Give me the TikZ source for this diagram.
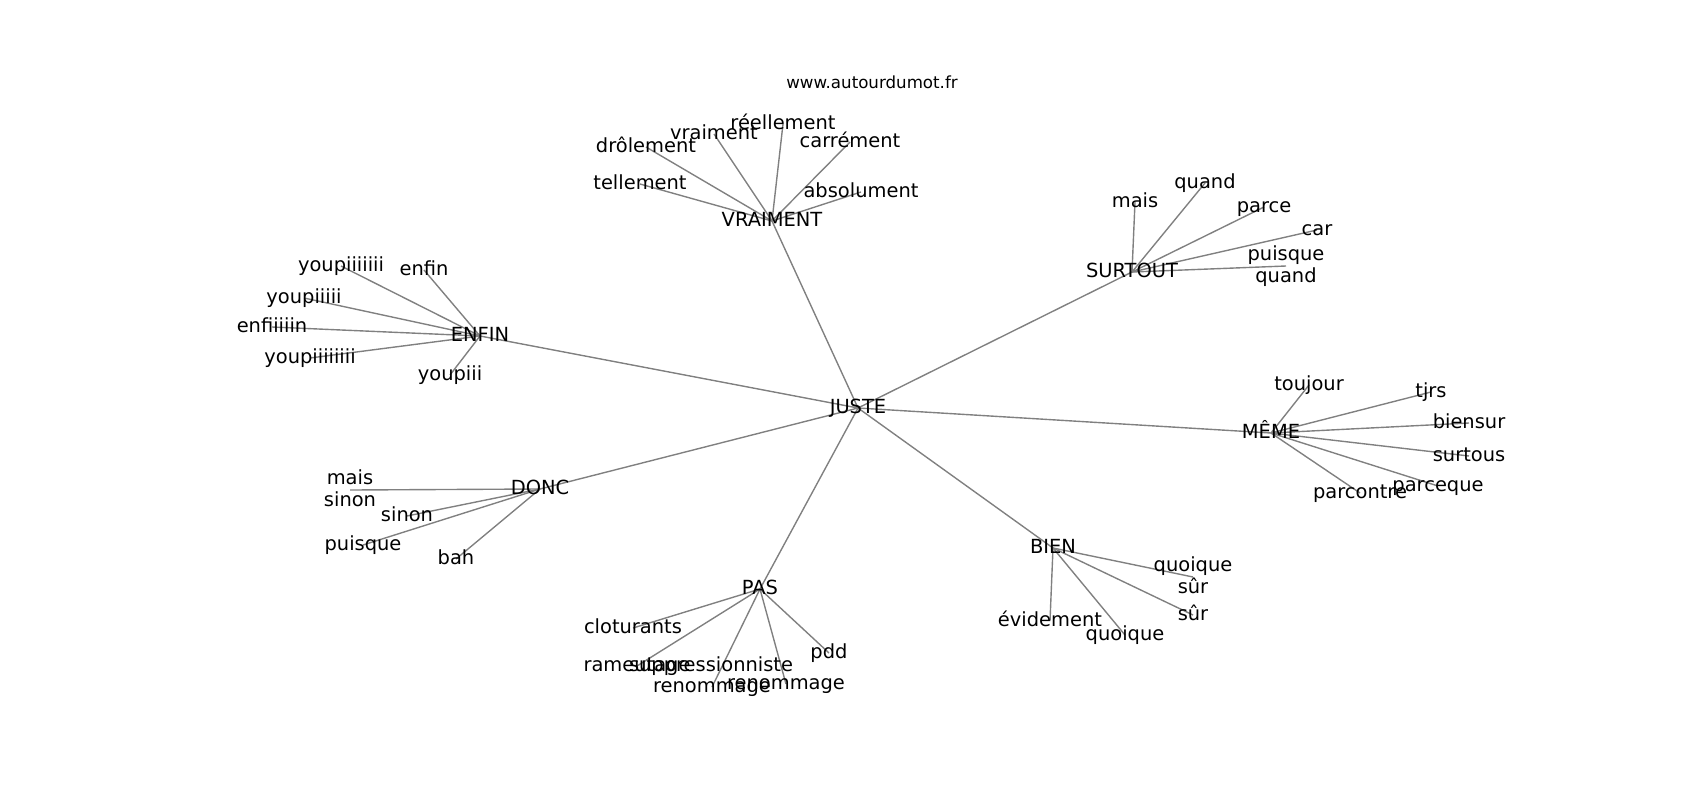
\documentclass[tikz,border=0pt]{standalone}
\usepackage{fontspec}
\setmainfont{DejaVu Sans}
\begin{document}
\begin{tikzpicture}[x=0.72bp,y=-0.72bp,
  lbl/.style={font=\fontsize{14bp}{16bp}\selectfont, inner sep=0pt, anchor=base, yshift=-3.9bp},
  lblup/.style={font=\fontsize{14bp}{16bp}\selectfont, inner sep=0pt, anchor=base, yshift=4bp},
  lbldn/.style={font=\fontsize{14bp}{16bp}\selectfont, inner sep=0pt, anchor=base, yshift=-11.8bp},
  ttl/.style={font=\fontsize{12bp}{14bp}\selectfont, inner sep=0pt, anchor=base},
  edge/.style={draw=black!50, line width=1bp}]
\useasboundingbox (0,0) rectangle (1700,800);
% hubs
\coordinate (juste) at (858,408);
\coordinate (vraiment) at (772,221);
\coordinate (enfin) at (480,336);
\coordinate (surtout) at (1132,272);
\coordinate (meme) at (1271,433);
\coordinate (donc) at (540,489);
\coordinate (pas) at (760,589);
\coordinate (bien) at (1053,548);
% VRAIMENT leaves
\coordinate (v1) at (640,184);
\coordinate (v2) at (646,147);
\coordinate (v3) at (714,134);
\coordinate (v4) at (783,124);
\coordinate (v5) at (850,142);
\coordinate (v6) at (861,192);
% ENFIN leaves
\coordinate (e1) at (341,266);
\coordinate (e2) at (424,270);
\coordinate (e3) at (304,298);
\coordinate (e4) at (272,327);
\coordinate (e5) at (310,358);
\coordinate (e6) at (450,375);
% SURTOUT leaves
\coordinate (s1) at (1135,202);
\coordinate (s2) at (1205,183);
\coordinate (s3) at (1264,207);
\coordinate (s4) at (1317,230);
\coordinate (s5) at (1286,266);
% MEME leaves
\coordinate (m1) at (1309,385);
\coordinate (m2) at (1431,392);
\coordinate (m3) at (1469,423);
\coordinate (m4) at (1469,456);
\coordinate (m5) at (1438,486);
\coordinate (m6) at (1360,493);
% DONC leaves
\coordinate (d1) at (350,490);
\coordinate (d2) at (407,516);
\coordinate (d3) at (363,545);
\coordinate (d4) at (456,559);
% PAS leaves
\coordinate (p1) at (633,628);
\coordinate (p2) at (637,666);
\coordinate (p3) at (711,666);
\coordinate (p4) at (712,687);
\coordinate (p5) at (786,684);
\coordinate (p6) at (829,653);
% BIEN leaves
\coordinate (b1) at (1193,577);
\coordinate (b2) at (1193,615);
\coordinate (b3) at (1050,621);
\coordinate (b4) at (1125,635);
% edges
\foreach \h in {vraiment,enfin,surtout,meme,donc,pas,bien} \draw[edge] (juste) -- (\h);
\foreach \l in {v1,v2,v3,v4,v5,v6} \draw[edge] (vraiment) -- (\l);
\foreach \l in {e1,e2,e3,e4,e5,e6} \draw[edge] (enfin) -- (\l);
\foreach \l in {s1,s2,s3,s4,s5} \draw[edge] (surtout) -- (\l);
\foreach \l in {m1,m2,m3,m4,m5,m6} \draw[edge] (meme) -- (\l);
\foreach \l in {d1,d2,d3,d4} \draw[edge] (donc) -- (\l);
\foreach \l in {p1,p2,p4,p5,p6} \draw[edge] (pas) -- (\l);
\foreach \l in {b1,b2,b3,b4} \draw[edge] (bien) -- (\l);
% title
\node[ttl] (title) at (872,88) {www.autourdumot.fr};
% labels
\node[lbl] (tjuste) at (juste) {JUSTE};
\node[lbl] (tvraiment) at (vraiment) {VRAIMENT};
\node[lbl] (tenfin) at (enfin) {ENFIN};
\node[lbl] (tsurtout) at (surtout) {SURTOUT};
\node[lbl] (tmeme) at (meme) {MÊME};
\node[lbl] (tdonc) at (donc) {DONC};
\node[lbl] (tpas) at (pas) {PAS};
\node[lbl] (tbien) at (bien) {BIEN};
\node[lbl] (tv1) at (v1) {tellement};
\node[lbl] (tv2) at (v2) {drôlement};
\node[lbl] (tv3) at (v3) {vraiment};
\node[lbl] (tv4) at (v4) {réellement};
\node[lbl] (tv5) at (v5) {carrément};
\node[lbl] (tv6) at (v6) {absolument};
\node[lbl] (te1) at (e1) {youpiiiiiii};
\node[lbl] (te2) at (e2) {enfin};
\node[lbl] (te3) at (e3) {youpiiiii};
\node[lbl] (te4) at (e4) {enfiiiiin};
\node[lbl] (te5) at (e5) {youpiiiiiiii};
\node[lbl] (te6) at (e6) {youpiii};
\node[lbl] (ts1) at (s1) {mais};
\node[lbl] (ts2) at (s2) {quand};
\node[lbl] (ts3) at (s3) {parce};
\node[lbl] (ts4) at (s4) {car};
\node[lblup] (ts5a) at (s5) {puisque};
\node[lbldn] (ts5b) at (s5) {quand};
\node[lbl] (tm1) at (m1) {toujour};
\node[lbl] (tm2) at (m2) {tjrs};
\node[lbl] (tm3) at (m3) {biensur};
\node[lbl] (tm4) at (m4) {surtous};
\node[lbl] (tm5) at (m5) {parceque};
\node[lbl] (tm6) at (m6) {parcontre};
\node[lblup] (td1a) at (d1) {mais};
\node[lbldn] (td1b) at (d1) {sinon};
\node[lbl] (td2) at (d2) {sinon};
\node[lbl] (td3) at (d3) {puisque};
\node[lbl] (td4) at (d4) {bah};
\node[lbl] (tp1) at (p1) {cloturants};
\node[lbl] (tp2) at (p2) {rameutage};
\node[lbl] (tp3) at (p3) {suppressionniste};
\node[lbl] (tp4) at (p4) {renommage};
\node[lbl] (tp5) at (p5) {renommage};
\node[lbl] (tp6) at (p6) {pdd};
\node[lblup] (tb1a) at (b1) {quoique};
\node[lbldn] (tb1b) at (b1) {sûr};
\node[lbl] (tb2) at (b2) {sûr};
\node[lbl] (tb3) at (b3) {évidement};
\node[lbl] (tb4) at (b4) {quoique};
\end{tikzpicture}
\end{document}
